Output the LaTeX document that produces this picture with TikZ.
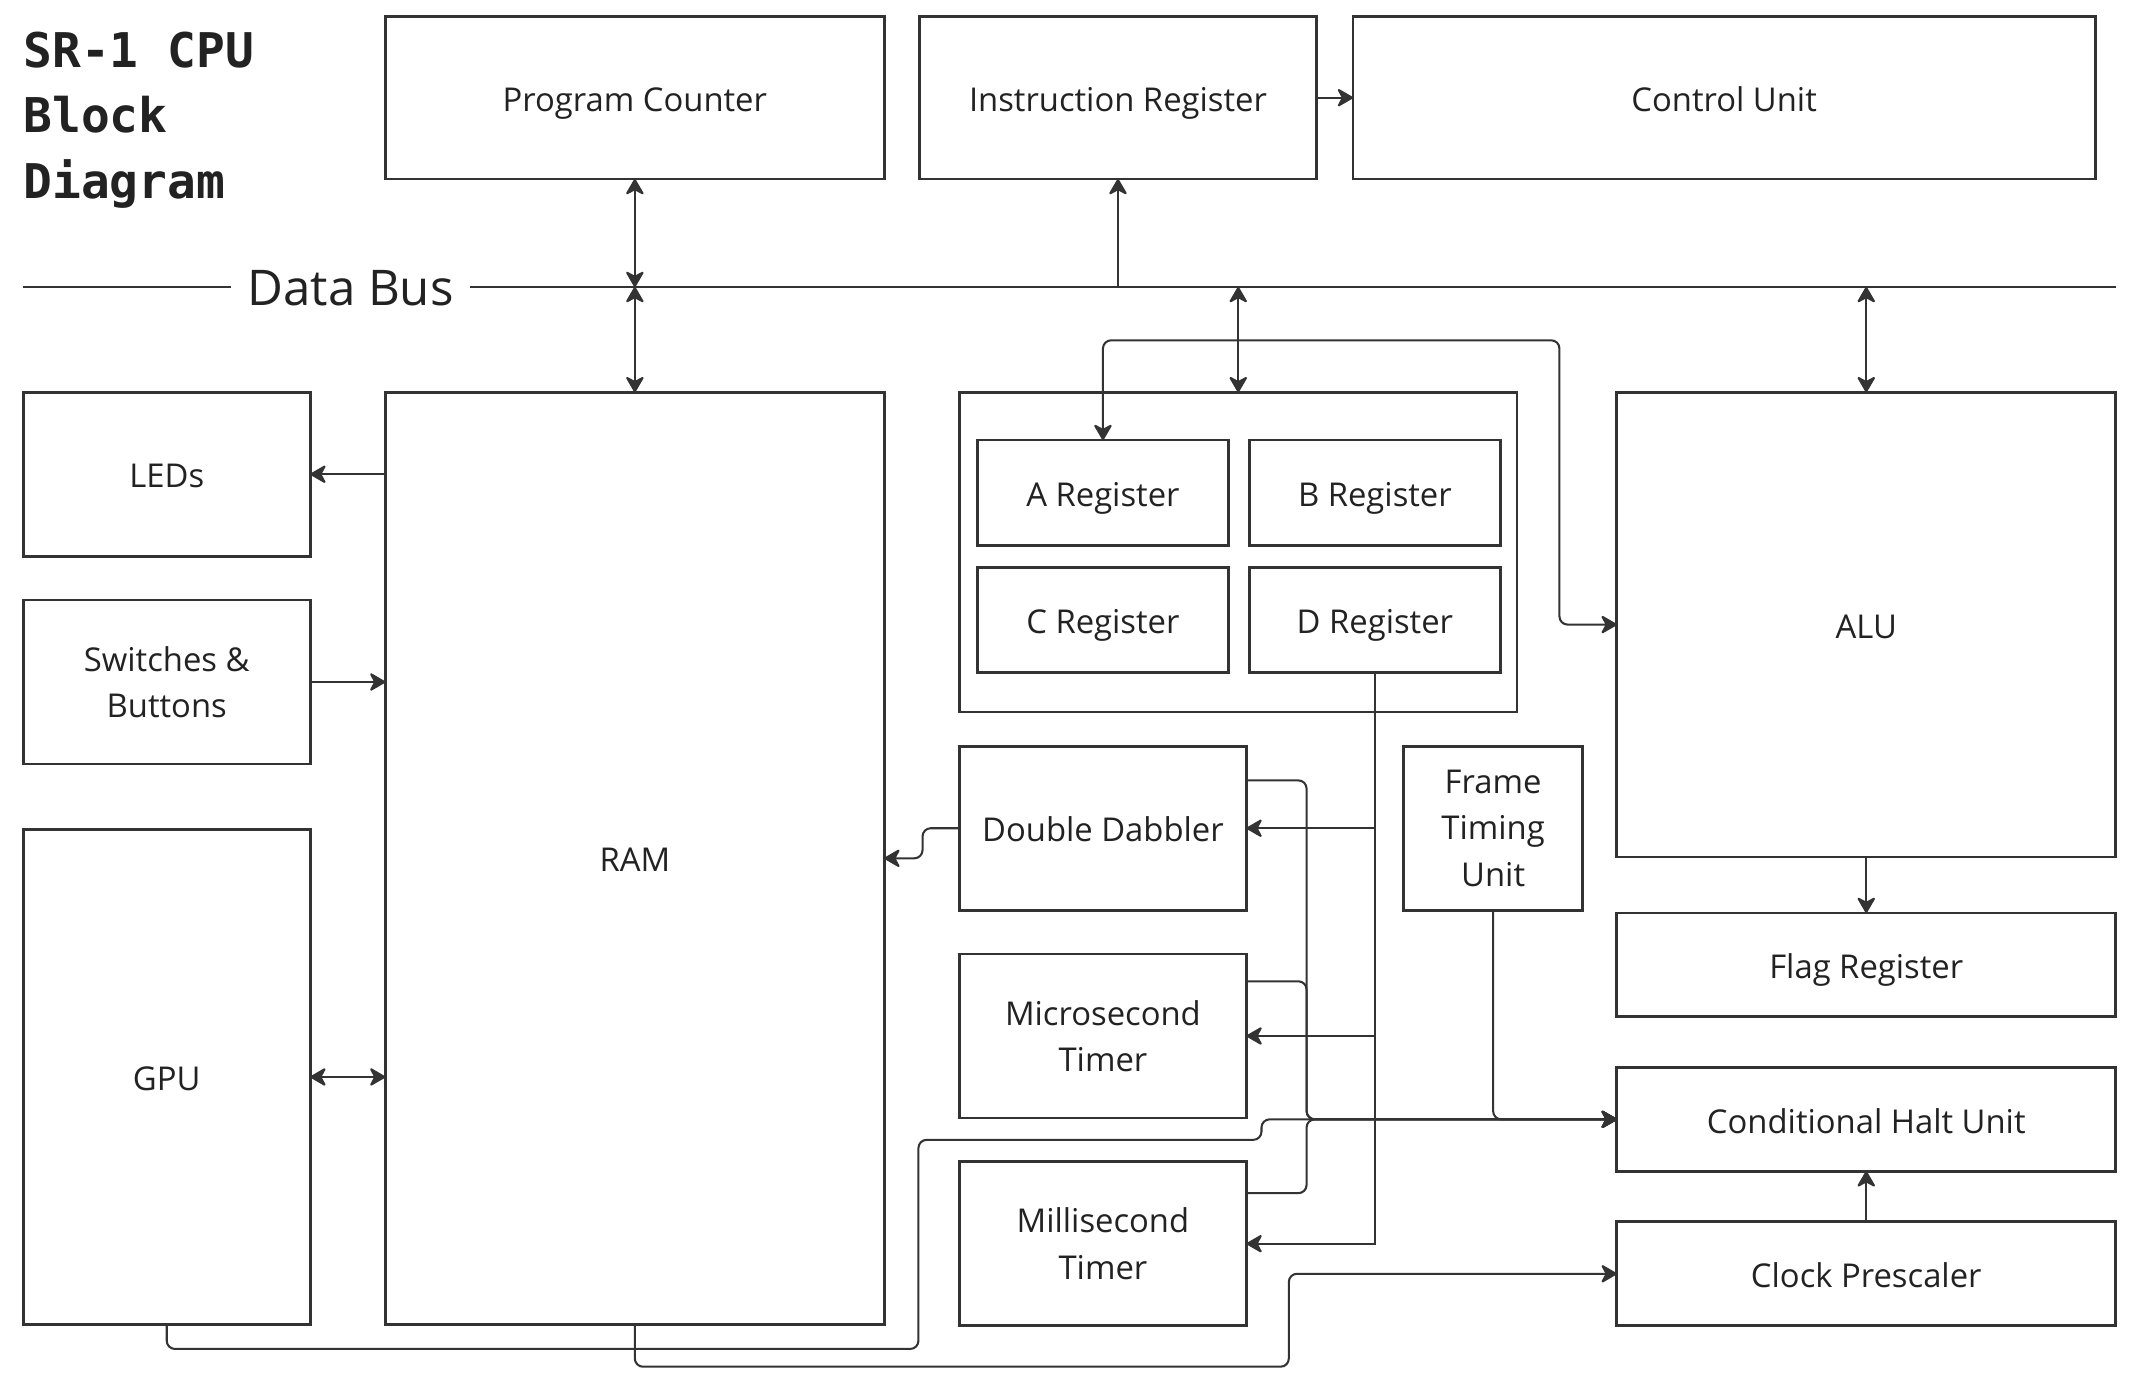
\documentclass[tikz,border=0pt]{standalone}
\usepackage{fontspec}
\setmainfont{Open Sans}
\newfontfamily\titlefont{DejaVu Sans Mono}
\usepackage{tikz}
\usetikzlibrary{positioning, arrows.meta}

\definecolor{wire}{HTML}{333333}
\definecolor{ink}{HTML}{222222}

\begin{document}
\begin{tikzpicture}[
    x=1pt, y=-1pt,
    >={Stealth[length=13pt, width=15pt, inset=4pt, round]},
    block/.style={rectangle, draw=wire, line width=2pt, outer sep=0pt, inner sep=2pt, text=ink, align=center, font=\fontsize{24}{34}\selectfont},
    single/.style={text height=26pt, text depth=6pt},
    bus_line/.style={draw=wire, line width=1.5pt},
    one_arrow/.style={draw=wire, line width=1.5pt, rounded corners=6pt, ->},
    dbl_arrow/.style={draw=wire, line width=1.5pt, rounded corners=6pt, <->}
]

\fill[white] (0,0) rectangle (1568,1010.5);
\useasboundingbox (0,0) rectangle (1568,1010.5);

% Title
\node[anchor=north west, align=left, inner sep=0pt, text=ink, font=\titlefont\bfseries\fontsize{35}{48}\selectfont] (title) at (17,23) {SR-1 CPU\\Block\\Diagram};

% Top row of blocks
\node[block, single, minimum width=365pt, minimum height=119pt] (pc) at (464.5,71.5) {Program Counter};
\node[block, single, minimum width=290pt, minimum height=119pt] (ir) at (818,71.5) {Instruction Register};
\node[block, single, minimum width=543pt, minimum height=119pt] (cu) at (1261.5,71.5) {Control Unit};

% Data bus
\coordinate (busL) at (17,210);
\coordinate (busR) at (1548,210);
\node[text=ink, font=\fontsize{36}{40}\selectfont, inner xsep=12pt, inner ysep=0pt] (bus) at (256.5,211) {Data Bus};
\draw[bus_line] (busL) -- (bus.west |- busL);
\draw[bus_line] (bus.east |- busR) -- (busR);

% Left column
\node[block, single, minimum width=210pt, minimum height=120pt] (leds) at (122,347) {LEDs};
\node[block, minimum width=210pt, minimum height=120pt, below=32pt of leds] (sw) {Switches \&\\Buttons};
\node[block, single, minimum width=210pt, minimum height=362pt, below=48pt of sw] (gpu) {GPU};

% Memory
\node[block, single, minimum width=365pt, minimum height=682pt] (ram) at (464.5,628) {RAM};

% Register file
\node[block, minimum width=408pt, minimum height=234pt] (regs) at (906,404) {};
\node[block, single, minimum width=184pt, minimum height=77pt] (areg) at (807,360.5) {A Register};
\node[block, single, minimum width=184pt, minimum height=77pt, right=15pt of areg] (breg) {B Register};
\node[block, single, minimum width=184pt, minimum height=77pt, below=16pt of areg] (creg) {C Register};
\node[block, single, minimum width=184pt, minimum height=77pt, below=16pt of breg] (dreg) {D Register};

% Timers and helpers
\node[block, single, minimum width=210pt, minimum height=120pt] (dd) at (807,606) {Double Dabbler};
\node[block, minimum width=210pt, minimum height=120pt, below=32pt of dd] (usec) {Microsecond\\Timer};
\node[block, minimum width=210pt, minimum height=120pt, below=32pt of usec] (msec) {Millisecond\\Timer};
\node[block, minimum width=131pt, minimum height=120pt] (ftu) at (1092.5,606) {Frame\\Timing\\Unit};

% Right column
\node[block, single, minimum width=365pt, minimum height=340pt] (alu) at (1365.5,457) {ALU};
\node[block, single, minimum width=365pt, minimum height=76pt, below=41pt of alu] (flag) {Flag Register};
\node[block, single, minimum width=365pt, minimum height=76pt, below=37pt of flag] (chu) {Conditional Halt Unit};
\node[block, single, minimum width=365pt, minimum height=76pt, below=37pt of chu] (cp) {Clock Prescaler};

% Connections to the bus
\draw[dbl_arrow] (pc.south) -- (pc.south |- busL);
\draw[dbl_arrow] (ram.north |- busL) -- (ram.north);
\draw[one_arrow] (ir.south |- busL) -- (ir.south);
\draw[dbl_arrow] (regs.north |- busL) -- (regs.north);
\draw[dbl_arrow] (alu.north |- busL) -- (alu.north);
\draw[one_arrow] (ir.east) -- (cu.west);

% A register <-> ALU
\draw[dbl_arrow] (areg.north) -- ++(0,-73) -| ([xshift=-42pt]alu.west) -- (alu.west);

% ALU side
\draw[one_arrow] (alu.south) -- (flag.north);
\draw[one_arrow] (cp.north) -- (chu.south);

% IO around RAM
\draw[one_arrow] (leds.east -| ram.west) -- (leds.east);
\draw[one_arrow] (sw.east) -- (sw.east -| ram.west);
\draw[dbl_arrow] (gpu.east) -- (gpu.east -| ram.west);

% D register fan-out
\draw[one_arrow, sharp corners] (dreg.south) |- (msec.east);
\draw[one_arrow] (dreg.south |- dd.east) -- (dd.east);
\draw[one_arrow] (dreg.south |- usec.east) -- (usec.east);
\draw[one_arrow] (dd.west) -- ++(-27,0) |- (ram.east);

% Everything into the halt unit
\coordinate (tj) at ([xshift=44pt]dd.east |- chu.west);
\draw[one_arrow] ([yshift=35pt]dd.east) -| (tj) -- (chu.west);
\draw[one_arrow] ([yshift=40pt]usec.east) -| (tj) -- (chu.west);
\draw[one_arrow] ([yshift=37pt]msec.east) -| (tj) -- (chu.west);
\draw[one_arrow] (ftu.south) |- (chu.west);
\draw[one_arrow] (gpu.south) -- ++(0,18) -| ++(550,-153) -- ++(251,0) |- (chu.west);

% RAM -> prescaler
\draw[one_arrow] (ram.south) -- ++(0,31) -| ([xshift=-240pt]cp.west) -- (cp.west);

\end{tikzpicture}
\end{document}
